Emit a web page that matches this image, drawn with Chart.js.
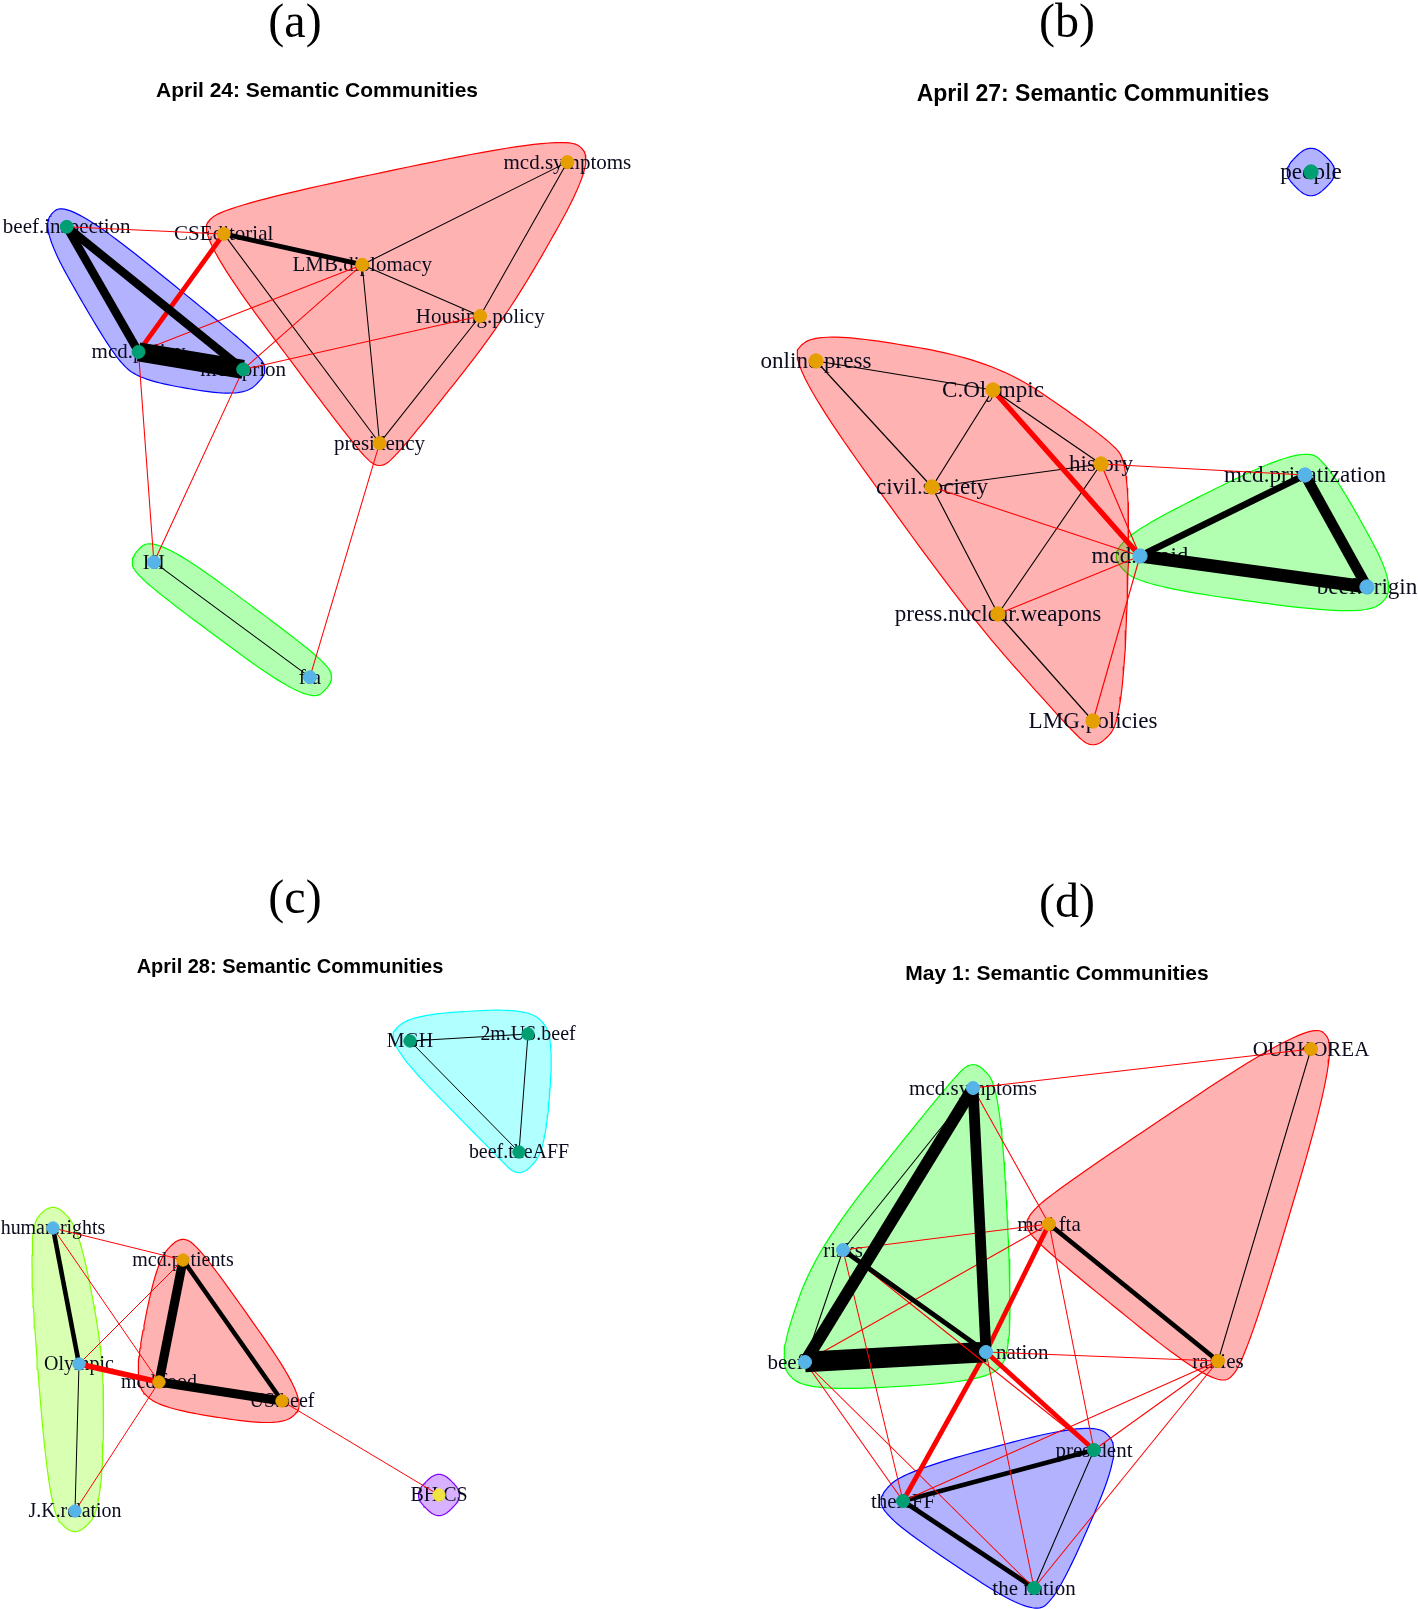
<!DOCTYPE html>
<html><head><meta charset="utf-8">
<script src="https://cdn.jsdelivr.net/npm/chart.js@4.4.1/dist/chart.umd.min.js"></script>
<style>
html,body{margin:0;padding:0;background:#fff;}
#page{position:relative;width:1418px;height:1609px;overflow:hidden;background:#fff;}
#page canvas{position:absolute;}
.lab{position:absolute;transform:translate(-50%,-50%);white-space:nowrap;color:#000;line-height:1;}
.pl{font-family:'Liberation Serif','Times New Roman',serif;font-size:48px;}
.tt{font-family:'Liberation Sans',Arial,sans-serif;font-weight:bold;}
</style></head><body><div id="page"></div>
<script>
const panelLetters = ['(a)','(b)','(c)','(d)'];
const panelTitles = ['April 24: Semantic Communities','April 27: Semantic Communities','April 28: Semantic Communities','May 1: Semantic Communities'];

// ---------- Panel (a): April 24 ----------
const namesA = ['beef.inspection','CSEditorial','LMB.diplomacy','mcd.symptoms','Housing.policy','mcd.policy','mcd.prion','presidency','HI','fta'];
const xA = [66.7,223.7,362.2,567.4,480.2,138.5,243.2,379.6,153.9,309.9];
const yA = [226.8,233.9,264.7,162.1,316,351.9,369.4,443.2,562.2,677.2];
const commA = [3,1,1,1,1,3,3,1,2,2];
const edgesA = [
 ['beef.inspection','CSEditorial',1],['beef.inspection','mcd.policy',7],['beef.inspection','mcd.prion',7],
 ['mcd.policy','mcd.prion',16],['mcd.policy','CSEditorial',4],['mcd.policy','LMB.diplomacy',1],
 ['mcd.policy','HI',1],['mcd.prion','HI',1],['mcd.prion','LMB.diplomacy',1],['mcd.prion','Housing.policy',1],
 ['CSEditorial','LMB.diplomacy',4],['CSEditorial','presidency',1],['LMB.diplomacy','mcd.symptoms',1],
 ['LMB.diplomacy','Housing.policy',1],['LMB.diplomacy','presidency',1],['mcd.symptoms','Housing.policy',1],
 ['Housing.policy','presidency',1],['presidency','fta',1],['HI','fta',1]
];

// ---------- Panel (b): April 27 ----------
const namesB = ['people','online.press','C.Olympic','history','civil.society','mcd.avoid','mcd.privatization','beef.origin','press.nuclear.weapons','LMG.policies'];
const xB = [602,107,284,392,223,431,596,658,289,384];
const yB = [172,361,390,464,487,556,475,587,614,721];
const commB = [3,1,1,1,1,2,2,2,1,1];
const edgesB = [
 ['online.press','C.Olympic',1],['online.press','civil.society',1],['C.Olympic','civil.society',1],
 ['C.Olympic','history',1],['C.Olympic','mcd.avoid',4],['civil.society','history',1],
 ['civil.society','press.nuclear.weapons',1],['civil.society','mcd.avoid',1],['history','press.nuclear.weapons',1],
 ['history','mcd.avoid',1],['history','mcd.privatization',1],['press.nuclear.weapons','LMG.policies',1],
 ['press.nuclear.weapons','mcd.avoid',1],['LMG.policies','mcd.avoid',1],['mcd.avoid','mcd.privatization',5],
 ['mcd.avoid','beef.origin',10],['mcd.privatization','beef.origin',8]
];

// ---------- Panel (c): April 28 ----------
const namesC = ['MGH','2m.US.beef','beef.theAFF','human.rights','mcd.patients','Olympic','mcd.food','US.beef','J.K.relation','BH.CS'];
const xC = [410,528,519,53,183,79,159,282,75,439];
const yC = [236,229,347,423,455,559,577,596,706,690];
const commC = [3,3,3,2,1,2,1,1,2,4];
const edgesC = [
 ['MGH','2m.US.beef',1],['MGH','beef.theAFF',1],['2m.US.beef','beef.theAFF',1],
 ['human.rights','Olympic',4],['human.rights','mcd.patients',1],['human.rights','mcd.food',1],
 ['Olympic','J.K.relation',1],['Olympic','mcd.patients',1],['Olympic','mcd.food',5],
 ['J.K.relation','mcd.food',1],['mcd.patients','mcd.food',8],['mcd.patients','US.beef',4],
 ['mcd.food','US.beef',8],['US.beef','BH.CS',1]
];

// ---------- Panel (d): May 1 ----------
const namesD = ['OURKOREA','mcd.symptoms','mcd.fta','risks','beef.safe','mcd.the.nation','rallies','president','theAFF','the nation'];
const xD = [602,264,340,134,96,277,509,385,194,325];
const yD = [244,283,419,445,557,547,556,645,696,783];
const commD = [1,2,1,2,2,2,1,3,3,3];
const edgesD = [
 ['mcd.symptoms','OURKOREA',1],['OURKOREA','rallies',1],['mcd.fta','rallies',4],
 ['mcd.symptoms','beef.safe',10],['mcd.symptoms','mcd.the.nation',9],['mcd.symptoms','risks',1],
 ['mcd.symptoms','mcd.fta',1],['risks','mcd.fta',1],['risks','beef.safe',1],['risks','mcd.the.nation',4],
 ['risks','theAFF',1],['risks','president',1],['beef.safe','mcd.the.nation',17],['beef.safe','mcd.fta',1],
 ['beef.safe','theAFF',1],['beef.safe','the nation',1],['mcd.the.nation','mcd.fta',4],
 ['mcd.the.nation','rallies',1],['mcd.the.nation','theAFF',4],['mcd.the.nation','president',4],
 ['mcd.the.nation','the nation',1],['mcd.fta','president',1],['rallies','theAFF',1],
 ['rallies','president',1],['rallies','the nation',1],['theAFF','president',4],
 ['theAFF','the nation',4],['president','the nation',1]
];

// ---------- styling ----------
const nodePalette = ['#E69F00','#56B4E9','#009E73','#F0E442','#0072B2','#D55E00','#CC79A7','#999999'];
function hsvToRgb(h){
  const i=Math.floor(h*6), f=h*6-i, q=1-f, t=f;
  const m=[[1,t,0],[q,1,0],[0,1,t],[0,q,1],[t,0,1],[1,0,q]][i%6];
  return m.map(v=>Math.round(v*255));
}
function rainbow(n){const out=[];for(let i=0;i<n;i++)out.push(hsvToRgb(i/n));return out;}

function fBlend(num,den){const p=2*den*den;const n=num/den;return n*n*n*(10-p+(2*p-15)*n+(6-p)*n*n);}
function xsplineClosed(P,s,steps){
  const n=P.length,out=[];
  for(let k=0;k<n;k++){
    const p0=P[k],p1=P[(k+1)%n],p2=P[(k+2)%n],p3=P[(k+3)%n];
    for(let j=0;j<steps;j++){
      const t=j/steps;
      const A0=t<s?fBlend(t-s,-1-s):0;
      const A2=fBlend(t+s,1+s);
      const A1=fBlend(t-1-s,-1-s);
      const A3=t>1-s?fBlend(t-1+s,1+s):0;
      const sum=A0+A1+A2+A3;
      out.push([(A0*p0[0]+A1*p1[0]+A2*p2[0]+A3*p3[0])/sum,(A0*p0[1]+A1*p1[1]+A2*p2[1]+A3*p3[1])/sum]);
    }
  }
  return out;
}
function markGroup(px,py,Rx,Ry){
  let cand=[];
  for(let i=0;i<px.length;i++){
    cand.push([px[i],py[i]],[px[i]-Rx,py[i]],[px[i]+Rx,py[i]],[px[i],py[i]-Ry],[px[i],py[i]+Ry]);
  }
  cand.sort((a,b)=>a[0]-b[0]||a[1]-b[1]);
  const cross=(o,a,b)=>(a[0]-o[0])*(b[1]-o[1])-(a[1]-o[1])*(b[0]-o[0]);
  const lower=[];for(const p of cand){while(lower.length>=2&&cross(lower[lower.length-2],lower[lower.length-1],p)<=0)lower.pop();lower.push(p);}
  const upper=[];for(let i=cand.length-1;i>=0;i--){const p=cand[i];while(upper.length>=2&&cross(upper[upper.length-2],upper[upper.length-1],p)<=0)upper.pop();upper.push(p);}
  upper.pop();lower.pop();
  const poly=xsplineClosed(lower.concat(upper),0.5,24);
  poly.push(poly[0]);
  return poly.map(p=>({x:p[0],y:p[1]}));
}

const labelPlugin = {
  id:'nodeLabels',
  beforeDatasetsDraw(chart){ chart.$labelsDone=false; },
  beforeDatasetDraw(chart,args){
    const ds=chart.data.datasets[args.index];
    if(ds.kind==='hull' || chart.$labelsDone) return;
    chart.$labelsDone=true;
    const info=chart.options.plugins.nodeLabels;
    const ctx=chart.ctx, xs=chart.scales.x, ys=chart.scales.y;
    ctx.save();
    ctx.font=info.size+"px 'Liberation Serif','Times New Roman',serif";
    ctx.fillStyle='#0b0b1e';
    ctx.textAlign='center'; ctx.textBaseline='middle';
    info.names.forEach((n,i)=>ctx.fillText(n, xs.getPixelForValue(info.xs[i]), ys.getPixelForValue(info.ys[i])+1));
    ctx.restore();
  }
};

const page=document.getElementById('page');
const W=709, H=805;
const panels=[
  {names:namesA,xs:xA,ys:yA,comm:commA,edges:edgesA,left:0,top:0,sc:1.0,title:21},
  {names:namesB,xs:xB,ys:yB,comm:commB,edges:edgesB,left:709,top:0,sc:1.1,title:23},
  {names:namesC,xs:xC,ys:yC,comm:commC,edges:edgesC,left:0,top:805,sc:0.95,title:20},
  {names:namesD,xs:xD,ys:yD,comm:commD,edges:edgesD,left:709,top:805,sc:1.0,title:21}
];
const letterPos=[[295,21],[1067,21],[295,897],[1067,901]];
const titlePos=[[317,89],[1093,93],[290,966],[1057,972]];

panels.forEach((p,pi)=>{
  const cv=document.createElement('canvas');
  cv.width=W; cv.height=H;
  cv.style.left=p.left+'px'; cv.style.top=p.top+'px';
  cv.style.width=W+'px'; cv.style.height=H+'px';
  page.appendChild(cv);

  const k=Math.max(...p.comm);
  const rb=rainbow(k);
  const Rx=0.11*(Math.max(...p.xs)-Math.min(...p.xs))/2;
  const Ry=0.11*(Math.max(...p.ys)-Math.min(...p.ys))/2;
  const datasets=[];
  for(let g=1;g<=k;g++){
    const gx=[],gy=[];
    p.comm.forEach((c,i)=>{if(c===g){gx.push(p.xs[i]);gy.push(p.ys[i]);}});
    const c=rb[g-1];
    datasets.push({kind:'hull',data:markGroup(gx,gy,Rx,Ry),showLine:true,fill:'shape',
      backgroundColor:`rgba(${c[0]},${c[1]},${c[2]},0.3)`,borderColor:`rgb(${c[0]},${c[1]},${c[2]})`,
      borderWidth:1.2,pointRadius:0,tension:0,order:3,clip:false});
  }
  const idx=n=>p.names.indexOf(n);
  p.edges.forEach(e=>{
    const a=idx(e[0]), b=idx(e[1]);
    const same=p.comm[a]===p.comm[b];
    datasets.push({kind:'edge',data:[{x:p.xs[a],y:p.ys[a]},{x:p.xs[b],y:p.ys[b]}],showLine:true,
      borderColor:same?'#000000':'#FF0000',borderWidth:(e[2]===1?1.05:e[2]*1.2)*p.sc,borderCapStyle:'butt',
      pointRadius:0,fill:false,order:2,clip:false});
  });
  datasets.push({kind:'node',data:p.names.map((n,i)=>({x:p.xs[i],y:p.ys[i]})),
    pointRadius:6.5*p.sc,pointBackgroundColor:p.comm.map(c=>nodePalette[c-1]),
    pointBorderColor:p.comm.map(c=>nodePalette[c-1]),pointBorderWidth:1,order:1,clip:false});

  new Chart(cv,{
    type:'scatter',
    data:{datasets},
    options:{
      responsive:false,animation:false,devicePixelRatio:1,
      layout:{padding:0,autoPadding:false},
      scales:{
        x:{type:'linear',min:0,max:W,display:false},
        y:{type:'linear',min:0,max:H,reverse:true,display:false}
      },
      plugins:{legend:{display:false},tooltip:{enabled:false},
        nodeLabels:{names:p.names,xs:p.xs,ys:p.ys,size:21*p.sc}},
      events:[]
    },
    plugins:[labelPlugin]
  });

  const l=document.createElement('div');
  l.className='lab pl'; l.textContent=panelLetters[pi];
  l.style.left=letterPos[pi][0]+'px'; l.style.top=letterPos[pi][1]+'px';
  page.appendChild(l);
  const t=document.createElement('div');
  t.className='lab tt'; t.textContent=panelTitles[pi];
  t.style.fontSize=p.title+'px';
  t.style.left=titlePos[pi][0]+'px'; t.style.top=titlePos[pi][1]+'px';
  page.appendChild(t);
});
</script></body></html>
